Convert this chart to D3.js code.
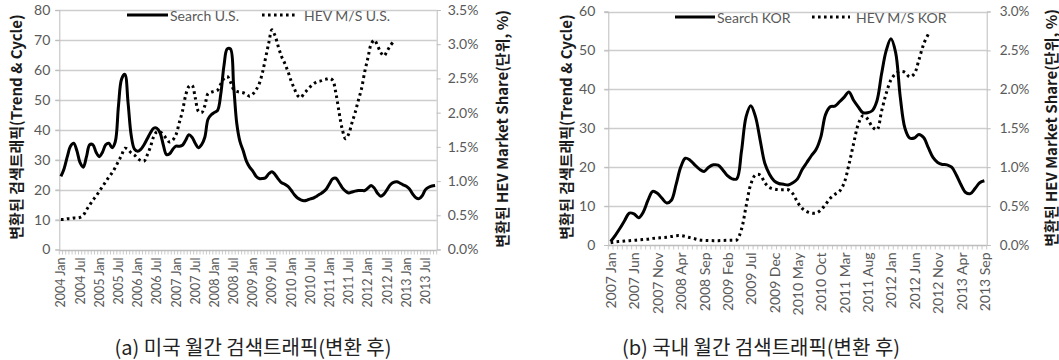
<!DOCTYPE html>
<html>
<head>
<meta charset="utf-8">
<script src="https://cdn.jsdelivr.net/npm/d3@7"></script>
<style>
  body { margin: 0; background: #fff; }
  svg { display: block; }
</style>
</head>
<body>
<svg id="fig" width="1059" height="360"></svg>
<script>
// ---- (a) U.S.: monthly series, 2004 Jan .. 2013 Oct ----
const usStart = new Date(2004, 0, 1);
const usSearch = [
  24.4, 27, 31, 34.5, 35.5, 33, 29, 27.5, 31, 35, 35, 32.5,
  31, 32.5, 35, 35.5, 34, 36, 48, 57, 58.5, 49, 38, 33.5,
  32.8, 33.5, 35, 37, 39, 40.5, 40.5, 39, 35, 31.7, 32, 33.5,
  34.5, 34.5, 34.8, 36.5, 38.3, 37.5, 35.5, 34, 35, 37.5, 43.5, 45,
  45.8, 46.5, 52, 61.5, 67, 67, 55, 42, 36, 33, 29.5, 27.5,
  26.2, 24.5, 23.7, 23.7, 24, 25.3, 26, 25, 23.5, 22.3, 21.8, 21.1,
  19.8, 18.3, 17.2, 16.6, 16.3, 16.5, 16.9, 17.2, 17.8, 18.5, 19.2, 20.2,
  22, 23.6, 23.8, 22.3, 20.6, 19.5, 18.9, 19.2, 19.5, 19.7, 19.7, 19.7,
  20.5, 21.4, 20.5, 18.8, 17.8, 18.5, 20, 21.6, 22.4, 22.6, 22.2, 21.6,
  21.1, 20.2, 18.5, 17.3, 17, 18, 20, 20.8, 21.2, 21.4
];
const usHev = [
  0.44, 0.44, 0.45, 0.45, 0.46, 0.46, 0.47, 0.50, 0.58, 0.65, 0.72, 0.78,
  0.85, 0.92, 0.99, 1.06, 1.12, 1.20, 1.29, 1.38, 1.48, 1.46, 1.41, 1.38,
  1.33, 1.30, 1.29, 1.38, 1.50, 1.65, 1.72, 1.72, 1.68, 1.62, 1.57, 1.60,
  1.68, 1.85, 2.02, 2.25, 2.38, 2.40, 2.22, 2.02, 2.00, 2.10, 2.28, 2.30,
  2.31, 2.33, 2.42, 2.50, 2.53, 2.45, 2.34, 2.31, 2.30, 2.29, 2.27, 2.24,
  2.27, 2.33, 2.42, 2.58, 2.80, 3.02, 3.21, 3.12, 2.96, 2.82, 2.72, 2.60,
  2.46, 2.35, 2.25, 2.22, 2.28, 2.33, 2.38, 2.42, 2.45, 2.46, 2.48, 2.49,
  2.50, 2.47, 2.28, 2.00, 1.75, 1.62, 1.69, 1.85, 2.00, 2.18, 2.35, 2.60,
  2.80, 3.00, 3.06, 2.98, 2.88, 2.83, 2.90, 2.98, 3.04
];
const usTickLabels = [
  "2004 Jan", "2004 Jul", "2005 Jan", "2005 Jul", "2006 Jan", "2006 Jul",
  "2007 Jan", "2007 Jul", "2008 Jan", "2008 Jul", "2009 Jan", "2009 Jul",
  "2010 Jan", "2010 Jul", "2011 Jan", "2011 Jul", "2012 Jan", "2012 Jul",
  "2013 Jan", "2013 Jul"
];

// ---- (b) Korea: monthly series, 2007 Jan .. 2013 Sep ----
const korStart = new Date(2007, 0, 1);
const korSearch = [
  0.9, 2.5, 4.3, 6.3, 8.2, 8.0, 7.0, 8.5, 11.5, 13.8, 13.3, 12.0,
  10.8, 11.5, 15.5, 20, 22.3, 21.8, 20.6, 19.5, 18.9, 20, 20.6, 20.5,
  19.3, 17.8, 17, 17, 24, 33, 35.8, 33, 27, 21, 18.2, 16.5,
  15.8, 15.6, 15.4, 16, 17, 19.4, 21.2, 23, 24.6, 27.8, 33.5, 35.5,
  35.7, 36.8, 38, 39.3, 37.2, 35.5, 34, 34, 34.5, 37, 44, 50,
  53, 49.5, 38, 30, 27.5, 27.5, 28.4, 27.6, 25, 22.5, 21.2, 20.7,
  20.6, 20, 18, 15.5, 13.5, 13.2, 14.5, 16, 16.5
];
const korHev = [
  0.03, 0.04, 0.045, 0.05, 0.055, 0.06, 0.065, 0.07, 0.075, 0.085, 0.09, 0.095,
  0.10, 0.11, 0.12, 0.12, 0.11, 0.095, 0.08, 0.065, 0.06, 0.058, 0.056, 0.056,
  0.058, 0.06, 0.062, 0.065, 0.20, 0.50, 0.78, 0.90, 0.90, 0.80, 0.74, 0.72,
  0.71, 0.71, 0.71, 0.66, 0.55, 0.47, 0.43, 0.41, 0.41, 0.45, 0.52, 0.60,
  0.65, 0.69, 0.80, 1.03, 1.30, 1.55, 1.66, 1.62, 1.52, 1.48, 1.72, 1.95,
  2.12, 2.20, 2.23, 2.22, 2.16, 2.20, 2.38, 2.58, 2.71
];
const korTickLabels = [
  "2007 Jan", "2007 Jun", "2007 Nov", "2008 Apr", "2008 Sep", "2009 Feb",
  "2009 Jul", "2009 Dec", "2010 May", "2010 Oct", "2011 Mar", "2011 Aug",
  "2012 Jan", "2012 Jun", "2012 Nov", "2013 Apr", "2013 Sep"
];

const leftTitle = "변환된 검색트래픽(Trend & Cycle)";
const rightTitle = "변환된 HEV Market Share(단위, %)";

const svg = d3.select("#fig");
const fmtMonth = d3.timeFormat("%Y %b");

const LABEL_FONT = "Lato, 'Noto Sans', sans-serif";
const KR_FONT = "'Noto Sans CJK KR', sans-serif";
const GRID = "#cdcdcd";
const AXIS = "#bdbdbd";
const TXT = "#595959";
const DOTS = "2.6,3.4";

function drawPanel(o) {
  const g = svg.append("g");
  const n = o.search.length;
  const months = d3.timeMonth.range(o.start, d3.timeMonth.offset(o.start, n));

  const x = d3.scaleBand().domain(months.map(fmtMonth)).range([o.x0, o.x1]);
  const cx = i => x(fmtMonth(months[i])) + x.bandwidth() / 2;
  const y = d3.scaleLinear().domain([0, o.yMax]).range([o.yBottom, o.yTop]);
  const y2 = d3.scaleLinear().domain([0, o.y2Max]).range([o.yBottom, o.yTop]);

  // horizontal gridlines (with short outward ticks on the left)
  const yTicks = d3.range(0, o.yMax + 1, 10);
  g.append("g").selectAll("line").data(yTicks.filter(d => d > 0)).join("line")
    .attr("x1", o.x0 - 4).attr("x2", o.x1)
    .attr("y1", d => Math.round(y(d)) + 0.5).attr("y2", d => Math.round(y(d)) + 0.5)
    .attr("stroke", GRID).attr("stroke-width", 1.3);

  // left axis
  const ax = g.append("g").attr("transform", `translate(${o.x0},0)`)
    .call(d3.axisLeft(y).tickValues(yTicks).tickSize(4).tickPadding(o.yPad));
  ax.selectAll("path, line").attr("stroke", AXIS);
  ax.selectAll("text").attr("font-family", LABEL_FONT).attr("font-size", o.yFont).attr("fill", TXT);

  // right axis (percent)
  const r2 = g.append("g").attr("transform", `translate(${o.x1},0)`)
    .call(d3.axisRight(y2).tickValues(d3.range(0, o.y2Max + 0.001, 0.5))
      .tickFormat(d => d.toFixed(1) + "%").tickSize(4).tickPadding(o.y2Pad));
  r2.selectAll("path, line").attr("stroke", AXIS);
  r2.selectAll("text").attr("font-family", LABEL_FONT).attr("font-size", o.y2Font).attr("fill", TXT);

  // category axis: baseline, boundary ticks, rotated month labels
  const yb = Math.round(o.yBottom) + 0.5;
  g.append("line").attr("x1", o.x0).attr("x2", o.x1).attr("y1", yb).attr("y2", yb)
    .attr("stroke", AXIS).attr("stroke-width", 1.3);
  const bounds = months.map(m => x(fmtMonth(m))).concat([o.x1]);
  g.append("g").selectAll("line").data(bounds).join("line")
    .attr("x1", d => d).attr("x2", d => d).attr("y1", yb).attr("y2", yb + 4)
    .attr("stroke", AXIS).attr("stroke-width", 0.8);
  const labelIdx = o.tickLabels.map(l => months.findIndex(m => fmtMonth(m) === l));
  g.append("g").selectAll("text").data(o.tickLabels).join("text")
    .attr("transform", (d, k) => `translate(${cx(labelIdx[k])},${yb + 7}) rotate(-90)`)
    .attr("text-anchor", "end").attr("dominant-baseline", "central")
    .attr("font-family", LABEL_FONT).attr("font-size", o.xFont).attr("fill", TXT)
    .text(d => d);

  // series
  const line = d3.line().x((d, i) => cx(i)).curve(d3.curveCatmullRom.alpha(0.5));
  g.append("path").datum(o.hev)
    .attr("d", line.y(d => y2(d)))
    .attr("fill", "none").attr("stroke", "#000").attr("stroke-width", 3)
    .attr("stroke-dasharray", DOTS);
  g.append("path").datum(o.search)
    .attr("d", line.y(d => y(d)))
    .attr("fill", "none").attr("stroke", "#000").attr("stroke-width", 3)
    .attr("stroke-linejoin", "round");

  // legend
  const L = o.legend;
  g.append("line").attr("x1", L.s0).attr("x2", L.s1).attr("y1", L.y).attr("y2", L.y)
    .attr("stroke", "#000").attr("stroke-width", 3);
  g.append("text").attr("x", L.s1 + 2).attr("y", L.y).attr("dominant-baseline", "central")
    .attr("font-family", LABEL_FONT).attr("font-size", 14).attr("fill", TXT).text(o.searchName);
  g.append("line").attr("x1", L.d0).attr("x2", L.d1).attr("y1", L.y).attr("y2", L.y)
    .attr("stroke", "#000").attr("stroke-width", 3).attr("stroke-dasharray", DOTS);
  g.append("text").attr("x", L.d1 + 6).attr("y", L.y).attr("dominant-baseline", "central")
    .attr("font-family", LABEL_FONT).attr("font-size", 14).attr("fill", TXT).text(o.hevName);

  // axis titles
  [[o.titleL, leftTitle], [o.titleR, rightTitle]].forEach(([t, s]) => {
    g.append("text")
      .attr("transform", `translate(${t.x},${t.y}) rotate(-90)`)
      .attr("text-anchor", "middle").attr("dominant-baseline", "central")
      .attr("font-family", KR_FONT).attr("font-weight", "bold")
      .attr("font-size", 15).attr("fill", "#1a1a1a").text(s);
  });

  // caption
  svg.append("text").attr("x", o.caption.x).attr("y", 355)
    .attr("text-anchor", "middle").attr("font-family", KR_FONT)
    .attr("font-size", 20).attr("fill", "#222").text(o.caption.text);
}

drawPanel({
  start: usStart, search: usSearch, hev: usHev, tickLabels: usTickLabels,
  x0: 59.3, x1: 436.7, yTop: 10, yBottom: 249.5, yMax: 80, y2Max: 3.5,
  yFont: 14, y2Font: 14, xFont: 12.5, yPad: 5, y2Pad: 7,
  legend: { y: 15, s0: 127, s1: 168, d0: 262, d1: 298 },
  searchName: "Search U.S.", hevName: "HEV M/S U.S.",
  titleL: { x: 15, y: 127 }, titleR: { x: 501, y: 129 },
  caption: { x: 253, text: "(a) 미국 월간 검색트래픽(변환 후)" }
});

drawPanel({
  start: korStart, search: korSearch, hev: korHev, tickLabels: korTickLabels,
  x0: 608.3, x1: 986.7, yTop: 11.5, yBottom: 245, yMax: 60, y2Max: 3.0,
  yFont: 14, y2Font: 13.5, xFont: 14, yPad: 9, y2Pad: 9,
  legend: { y: 17, s0: 675, s1: 715, d0: 812, d1: 850 },
  searchName: "Search KOR", hevName: "HEV M/S KOR",
  titleL: { x: 565, y: 127 }, titleR: { x: 1050, y: 128 },
  caption: { x: 761, text: "(b) 국내 월간 검색트래픽(변환 후)" }
});
</script>
</body>
</html>
